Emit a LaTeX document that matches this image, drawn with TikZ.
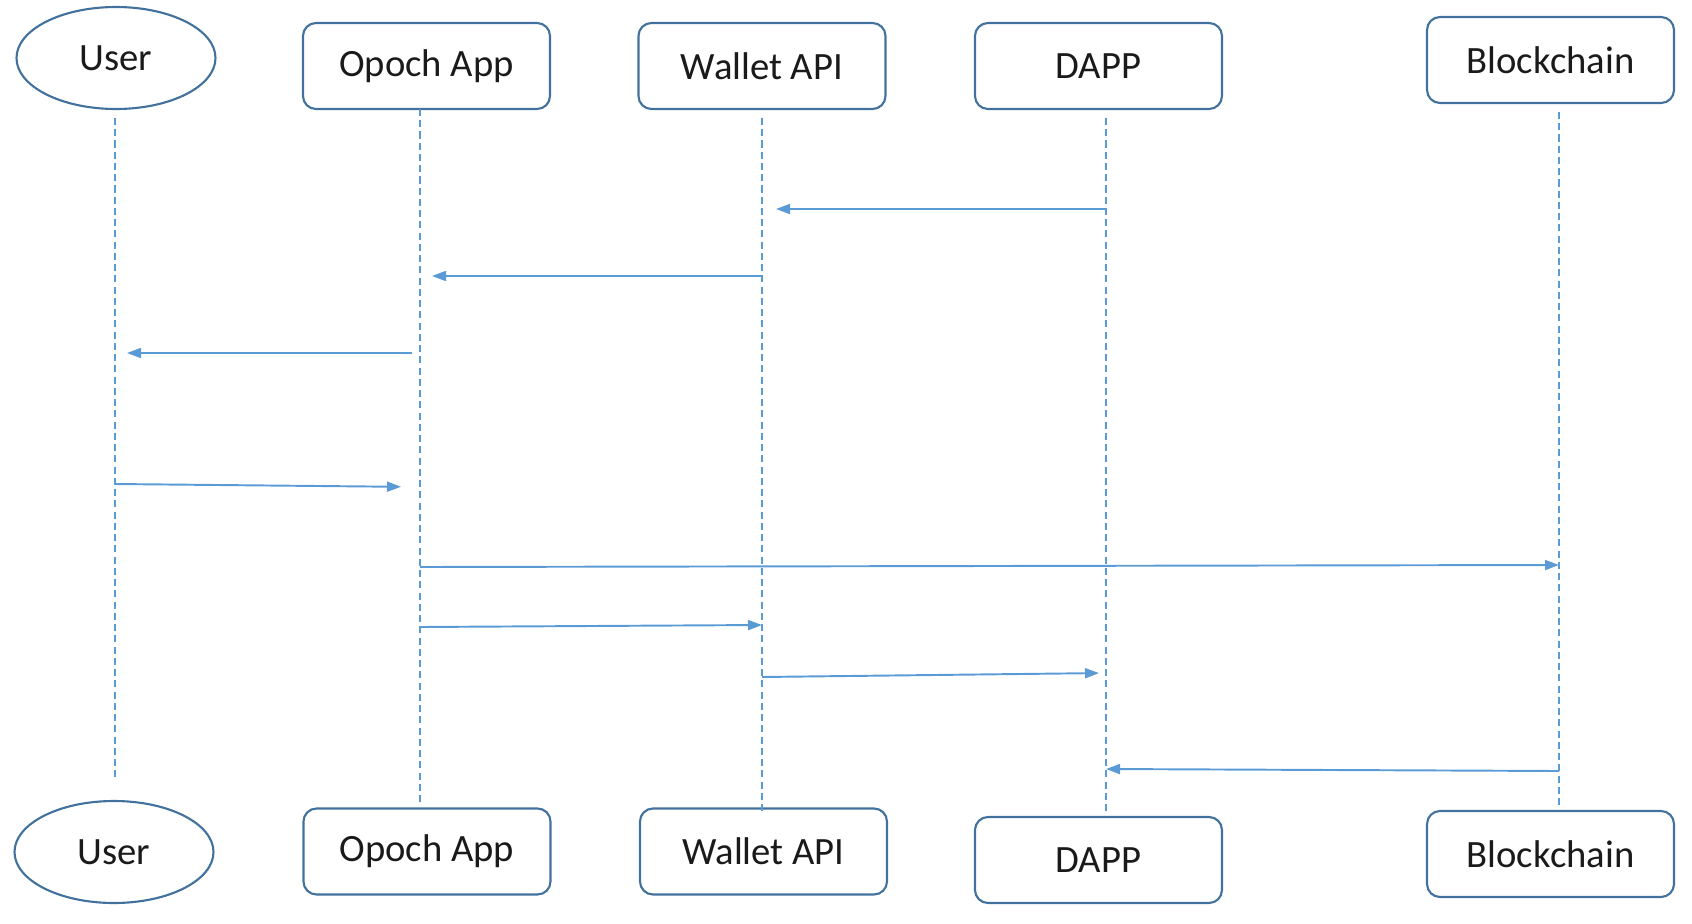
\documentclass[tikz,border=0pt]{standalone}
\usepackage{fontspec}
\setmainfont{Carlito}
\usetikzlibrary{shapes.geometric,arrows.meta}
\definecolor{boxblue}{HTML}{41719C}
\definecolor{lineblue}{HTML}{5B9BD5}
\definecolor{txtgrey}{HTML}{1A1A1A}
\tikzset{
    actor/.style={draw=boxblue,line width=0.6pt,rounded corners=0.13cm,minimum width=2.47cm,minimum height=0.86cm,text=txtgrey,font=\fontsize{11}{13}\selectfont},
    person/.style={draw=boxblue,line width=0.6pt,ellipse,inner sep=0pt,minimum width=1.99cm,minimum height=1.02cm,text=txtgrey,font=\fontsize{11}{13}\selectfont},
    life/.style={draw=lineblue,line width=0.45pt,dash pattern=on 2pt off 1.2pt},
    msg/.style={draw=lineblue,line width=0.55pt,-{Triangle[length=0.14cm,width=0.1cm]}}
}
\begin{document}
\begin{tikzpicture}
        \useasboundingbox (0,0) rectangle (16.92,-9.24);
        \node[person] (user) at (1.16,-0.58) {User};
        \node[actor] (opoch) at (4.265,-0.66) {Opoch App};
        \node[actor] (wallet) at (7.62,-0.66) {Wallet API};
        \node[actor] (dapp) at (10.985,-0.66) {DAPP};
        \node[actor] (chain) at (15.505,-0.60) {Blockchain};
        \node[person] (userB) at (1.14,-8.52) {User};
        \node[actor] (opochB) at (4.27,-8.515) {Opoch App};
        \node[actor] (walletB) at (7.635,-8.515) {Wallet API};
        \node[actor] (dappB) at (10.985,-8.60) {DAPP};
        \node[actor] (chainB) at (15.505,-8.54) {Blockchain};
        \foreach \n/\x/\ya/\yb in {user/1.15/-1.18/-7.78,opoch/4.20/-1.09/-8.02,wallet/7.62/-1.18/-8.14,dapp/11.06/-1.18/-8.14,chain/15.59/-1.12/-8.07} {
            \coordinate (\n-t) at (\x,\ya);
            \coordinate (\n-b) at (\x,\yb);
            \draw[life] (\n-t) -- (\n-b);
        }
        \draw[msg,shorten >=0.14cm] (dapp-t |- 0,-2.09) -- (wallet-t |- 0,-2.09);
        \draw[msg,shorten >=0.12cm] (wallet-t |- 0,-2.76) -- (opoch-t |- 0,-2.76);
        \draw[msg,shorten <=0.08cm,shorten >=0.12cm] (opoch-t |- 0,-3.53) -- (user-t |- 0,-3.53);
        \draw[msg,shorten >=0.19cm] (user-t |- 0,-4.84) -- (opoch-t |- 0,-4.87);
        \draw[msg] (opoch-t |- 0,-5.67) -- (chain-t |- 0,-5.65);
        \draw[msg] (opoch-t |- 0,-6.27) -- (wallet-t |- 0,-6.25);
        \draw[msg,shorten >=0.07cm] (wallet-t |- 0,-6.77) -- (dapp-t |- 0,-6.73);
        \draw[msg] (chain-t |- 0,-7.71) -- (dapp-t |- 0,-7.69);
\end{tikzpicture}
\end{document}
